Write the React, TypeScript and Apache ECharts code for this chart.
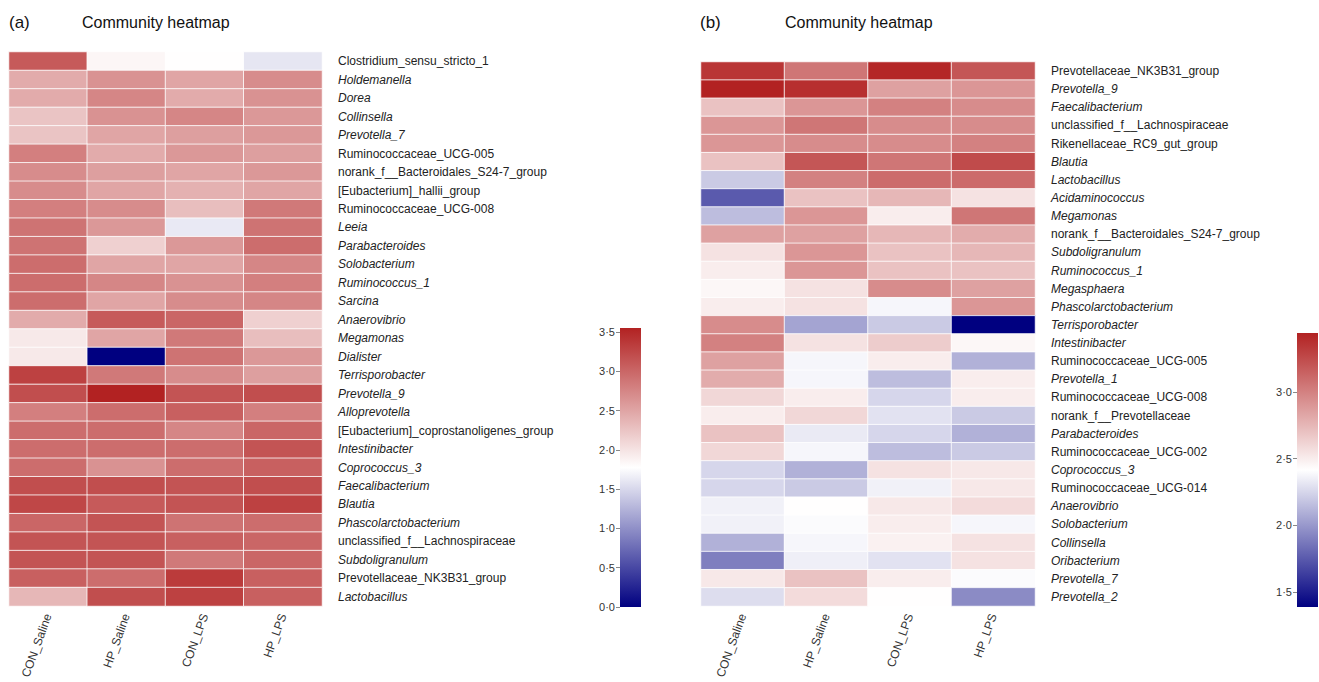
import React, { useEffect, useRef } from "react";
import * as echarts from "echarts";

const groups = ["CON_Saline", "HP_Saline", "CON_LPS", "HP_LPS"];

const generaA = [
  "Clostridium_sensu_stricto_1", "Holdemanella", "Dorea", "Collinsella", "Prevotella_7",
  "Ruminococcaceae_UCG-005", "norank_f__Bacteroidales_S24-7_group", "[Eubacterium]_hallii_group",
  "Ruminococcaceae_UCG-008", "Leeia", "Parabacteroides", "Solobacterium", "Ruminococcus_1",
  "Sarcina", "Anaerovibrio", "Megamonas", "Dialister", "Terrisporobacter", "Prevotella_9",
  "Alloprevotella", "[Eubacterium]_coprostanoligenes_group", "Intestinibacter", "Coprococcus_3",
  "Faecalibacterium", "Blautia", "Phascolarctobacterium", "unclassified_f__Lachnospiraceae",
  "Subdoligranulum", "Prevotellaceae_NK3B31_group", "Lactobacillus",
];

// rows follow generaA; columns follow groups
const valuesA = [
  [3.1, 1.85, 1.78, 1.6],
  [2.45, 2.65, 2.5, 2.7],
  [2.45, 2.75, 2.45, 2.65],
  [2.25, 2.65, 2.75, 2.6],
  [2.25, 2.5, 2.55, 2.6],
  [2.8, 2.45, 2.6, 2.55],
  [2.7, 2.55, 2.5, 2.6],
  [2.7, 2.5, 2.4, 2.5],
  [2.8, 2.7, 2.3, 2.85],
  [2.9, 2.6, 1.62, 2.9],
  [2.9, 2.15, 2.6, 2.95],
  [2.95, 2.5, 2.5, 2.75],
  [2.95, 2.75, 2.65, 2.8],
  [2.95, 2.5, 2.7, 2.75],
  [2.45, 3.1, 3.0, 2.15],
  [1.95, 2.5, 2.85, 2.3],
  [1.95, 0.0, 2.9, 2.6],
  [3.3, 2.85, 2.7, 2.55],
  [3.2, 3.55, 3.15, 3.2],
  [2.8, 2.95, 3.05, 2.8],
  [2.95, 2.95, 2.75, 3.0],
  [2.95, 2.95, 2.95, 3.15],
  [2.95, 2.65, 2.95, 3.05],
  [3.2, 3.2, 3.15, 3.2],
  [3.25, 3.1, 3.15, 3.3],
  [3.0, 3.15, 2.9, 2.95],
  [3.15, 3.15, 3.05, 3.0],
  [3.15, 3.15, 2.85, 3.0],
  [3.05, 2.95, 3.35, 3.05],
  [2.35, 3.2, 3.3, 3.05],
];

const generaB = [
  "Prevotellaceae_NK3B31_group", "Prevotella_9", "Faecalibacterium", "unclassified_f__Lachnospiraceae",
  "Rikenellaceae_RC9_gut_group", "Blautia", "Lactobacillus", "Acidaminococcus", "Megamonas",
  "norank_f__Bacteroidales_S24-7_group", "Subdoligranulum", "Ruminococcus_1", "Megasphaera",
  "Phascolarctobacterium", "Terrisporobacter", "Intestinibacter", "Ruminococcaceae_UCG-005",
  "Prevotella_1", "Ruminococcaceae_UCG-008", "norank_f__Prevotellaceae", "Parabacteroides",
  "Ruminococcaceae_UCG-002", "Coprococcus_3", "Ruminococcaceae_UCG-014", "Anaerovibrio",
  "Solobacterium", "Collinsella", "Oribacterium", "Prevotella_7", "Prevotella_2",
];

const valuesB = [
  [3.35, 3.05, 3.42, 3.2],
  [3.44, 3.38, 2.85, 2.9],
  [2.7, 2.9, 3.0, 2.95],
  [2.9, 3.05, 2.95, 2.95],
  [2.9, 2.95, 2.95, 3.0],
  [2.7, 3.2, 3.05, 3.25],
  [2.2, 3.0, 3.1, 3.1],
  [1.75, 2.7, 2.75, 2.55],
  [2.15, 2.9, 2.5, 3.05],
  [2.85, 2.85, 2.75, 2.8],
  [2.55, 2.9, 2.7, 2.75],
  [2.5, 2.9, 2.7, 2.7],
  [2.45, 2.55, 2.95, 2.85],
  [2.5, 2.55, 2.38, 2.9],
  [2.95, 2.05, 2.2, 1.39],
  [3.0, 2.55, 2.65, 2.45],
  [2.85, 2.38, 2.5, 2.1],
  [2.8, 2.38, 2.15, 2.5],
  [2.6, 2.5, 2.25, 2.5],
  [2.5, 2.6, 2.3, 2.2],
  [2.7, 2.33, 2.25, 2.1],
  [2.6, 2.38, 2.15, 2.2],
  [2.25, 2.1, 2.55, 2.52],
  [2.25, 2.2, 2.36, 2.52],
  [2.36, 2.42, 2.52, 2.58],
  [2.36, 2.4, 2.5, 2.38],
  [2.1, 2.38, 2.48, 2.55],
  [1.9, 2.35, 2.3, 2.55],
  [2.52, 2.7, 2.5, 2.4],
  [2.28, 2.58, 2.42, 1.95],
];

const plainNames = [
  "Clostridium_sensu_stricto_1", "Ruminococcaceae_UCG-005", "norank_f__Bacteroidales_S24-7_group",
  "[Eubacterium]_hallii_group", "Ruminococcaceae_UCG-008", "[Eubacterium]_coprostanoligenes_group",
  "unclassified_f__Lachnospiraceae", "Prevotellaceae_NK3B31_group", "Rikenellaceae_RC9_gut_group",
  "norank_f__Prevotellaceae", "Ruminococcaceae_UCG-002", "Ruminococcaceae_UCG-014",
];

const rangeA = [0, 3.55];
const rangeB = [1.39, 3.44];
const ticksA = [0, 0.5, 1, 1.5, 2, 2.5, 3, 3.5];
const ticksB = [1.5, 2, 2.5, 3];

const RED = "#b22222";
const NAVY = "#000080";
const FONT = "'Liberation Sans', Arial, sans-serif";

function toCells(values: number[][]) {
  const out: number[][] = [];
  values.forEach((row, r) => row.forEach((v, c) => out.push([c, r, v])));
  return out;
}

export default function App() {
  const ref = useRef<HTMLDivElement>(null);
  useEffect(() => {
    if (!ref.current) return;
    const chart = echarts.init(ref.current, null, { renderer: "svg" });

    const yLabel = {
      fontSize: 12,
      color: "#222",
      fontFamily: FONT,
      margin: 16,
      interval: 0,
      formatter: (v: string) => (plainNames.includes(v) ? v : `{i|${v}}`),
      rich: { i: { fontStyle: "italic", fontSize: 12, color: "#222", fontFamily: FONT } },
    };
    const xLabel = {
      fontSize: 12,
      color: "#333",
      fontFamily: FONT,
      rotate: 70,
      interval: 0,
      margin: 8,
    };
    const fmt = (v: number) => v.toFixed(1).replace(".", "·");
    const gradient = () =>
      new echarts.graphic.LinearGradient(0, 0, 0, 1, [
        { offset: 0, color: RED },
        { offset: 0.5, color: "#ffffff" },
        { offset: 1, color: NAVY },
      ]);
    const barRender = (params: any, api: any) => {
      const top = api.coord([0, api.value(2)]);
      const bot = api.coord([0, api.value(1)]);
      const w = api.size([1, 0])[0];
      return {
        type: "rect",
        shape: { x: top[0] - w / 2, y: top[1], width: w, height: bot[1] - top[1] },
        style: { fill: gradient() },
      };
    };
    const hidden = { show: false };

    chart.setOption({
      animation: false,
      backgroundColor: "#ffffff",
      textStyle: { fontFamily: FONT },
      graphic: [
        { type: "text", left: 9, top: 14, style: { text: "(a)", fontSize: 17, fill: "#111", fontFamily: FONT } },
        { type: "text", left: 82, top: 14, style: { text: "Community heatmap", fontSize: 16, fill: "#111", fontFamily: FONT } },
        { type: "text", left: 700, top: 14, style: { text: "(b)", fontSize: 17, fill: "#111", fontFamily: FONT } },
        { type: "text", left: 785, top: 14, style: { text: "Community heatmap", fontSize: 16, fill: "#111", fontFamily: FONT } },
      ],
      grid: [
        { left: 9, top: 52, width: 313, height: 554 },
        { left: 701, top: 62, width: 334, height: 544 },
        { left: 620, top: 328, width: 21, height: 279 },
        { left: 1297, top: 333, width: 21, height: 274 },
      ],
      xAxis: [
        { type: "category", gridIndex: 0, data: groups, axisLine: hidden, axisTick: hidden, axisLabel: xLabel, splitLine: hidden },
        { type: "category", gridIndex: 1, data: groups, axisLine: hidden, axisTick: hidden, axisLabel: xLabel, splitLine: hidden },
        { type: "category", gridIndex: 2, data: ["bar"], show: false },
        { type: "category", gridIndex: 3, data: ["bar"], show: false },
      ],
      yAxis: [
        { type: "category", gridIndex: 0, data: generaA, inverse: true, position: "right", axisLine: hidden, axisTick: hidden, axisLabel: yLabel },
        { type: "category", gridIndex: 1, data: generaB, inverse: true, position: "right", axisLine: hidden, axisTick: hidden, axisLabel: yLabel },
        {
          type: "value", gridIndex: 2, min: rangeA[0], max: rangeA[1], position: "left",
          axisLine: hidden, splitLine: hidden,
          axisTick: { show: true, length: 4, lineStyle: { color: "#888" }, customValues: ticksA },
          axisLabel: { fontSize: 11, color: "#333", margin: 5, fontFamily: FONT, formatter: fmt, customValues: ticksA },
        },
        {
          type: "value", gridIndex: 3, min: rangeB[0], max: rangeB[1], position: "left",
          axisLine: hidden, splitLine: hidden,
          axisTick: { show: true, length: 4, lineStyle: { color: "#888" }, customValues: ticksB },
          axisLabel: { fontSize: 11, color: "#333", margin: 5, fontFamily: FONT, formatter: fmt, customValues: ticksB },
        },
      ],
      visualMap: [
        { show: false, type: "continuous", seriesIndex: 0, min: rangeA[0], max: rangeA[1], dimension: 2, inRange: { color: [NAVY, "#ffffff", RED] } },
        { show: false, type: "continuous", seriesIndex: 1, min: rangeB[0], max: rangeB[1], dimension: 2, inRange: { color: [NAVY, "#ffffff", RED] } },
      ],
      series: [
        {
          type: "heatmap", xAxisIndex: 0, yAxisIndex: 0, data: toCells(valuesA),
          itemStyle: { borderColor: "rgba(255,255,255,0.8)", borderWidth: 1 },
        },
        {
          type: "heatmap", xAxisIndex: 1, yAxisIndex: 1, data: toCells(valuesB),
          itemStyle: { borderColor: "rgba(255,255,255,0.8)", borderWidth: 1 },
        },
        { type: "custom", xAxisIndex: 2, yAxisIndex: 2, data: [[0, rangeA[0], rangeA[1]]], renderItem: barRender, silent: true },
        { type: "custom", xAxisIndex: 3, yAxisIndex: 3, data: [[0, rangeB[0], rangeB[1]]], renderItem: barRender, silent: true },
      ],
    });
    return () => chart.dispose();
  }, []);

  return (
    <div
      ref={ref}
      style={{ position: "fixed", left: 0, top: 0, width: 1319, height: 682, background: "#fff" }}
    />
  );
}
